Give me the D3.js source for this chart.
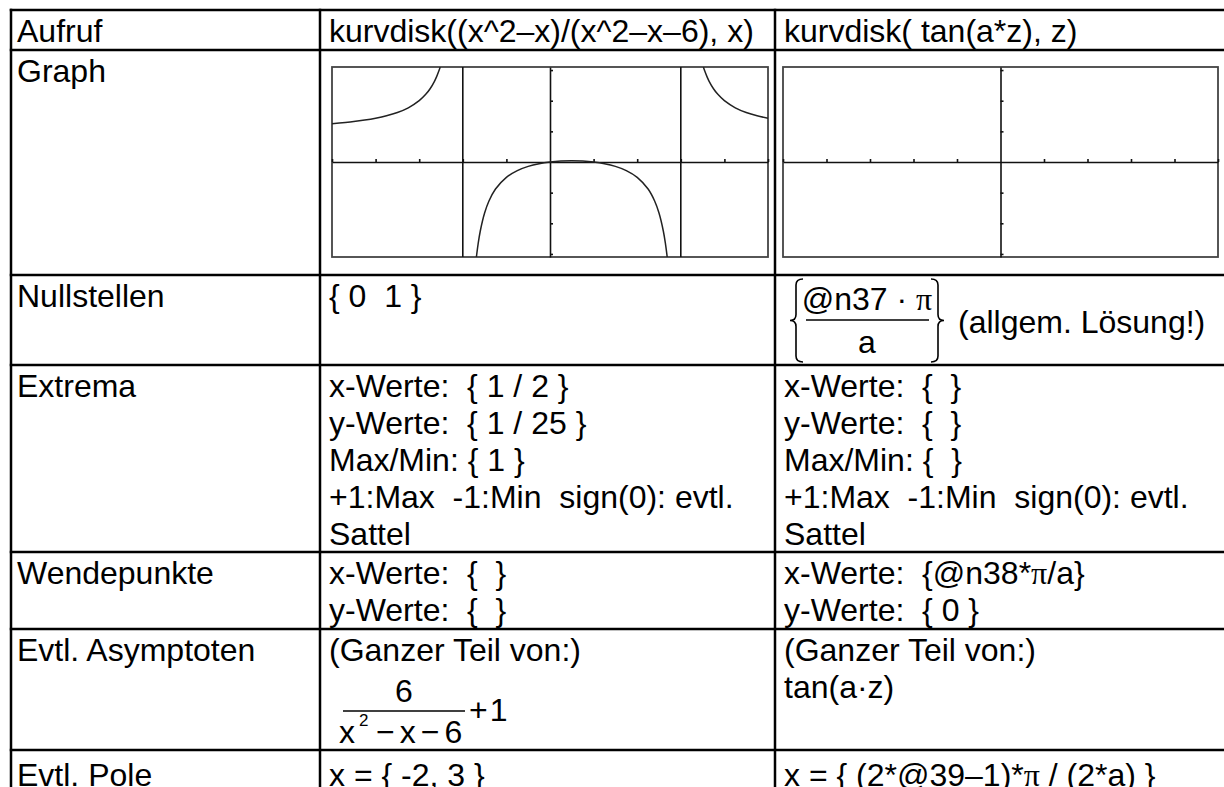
<!DOCTYPE html>
<html>
<head>
<meta charset="utf-8">
<script src="https://cdn.jsdelivr.net/npm/d3@7"></script>
<style>
  html, body { margin: 0; padding: 0; background: #fff; }
  text { white-space: pre; }
</style>
</head>
<body>
<div id="chart"></div>
<script>
// table layout data
const rowLabels = ['Aufruf', 'Graph', 'Nullstellen', 'Extrema', 'Wendepunkte', 'Evtl. Asymptoten', 'Evtl. Pole'];
const col2Text = [
  ['kurvdisk((x^2–x)/(x^2–x–6), x)'],
  [],
  ['{ 0  1 }'],
  ['x-Werte:  { 1 / 2 }', 'y-Werte:  { 1 / 25 }', 'Max/Min: { 1 }', '+1:Max  -1:Min  sign(0): evtl.', 'Sattel'],
  ['x-Werte:  {  }', 'y-Werte:  {  }'],
  ['(Ganzer Teil von:)'],
  ['x = { -2, 3 }']
];
const col3Text = [
  ['kurvdisk( tan(a*z), z)'],
  [],
  [],
  ['x-Werte:  {  }', 'y-Werte:  {  }', 'Max/Min: {  }', '+1:Max  -1:Min  sign(0): evtl.', 'Sattel'],
  ['x-Werte:  {@n38*π/a}', 'y-Werte:  { 0 }'],
  ['(Ganzer Teil von:)', 'tan(a·z)'],
  ['x = { (2*@39–1)*π / (2*a) }']
];

// graph data
const xDomain = [-5, 5];
const yDomain = [-3.1, 3.1];
const xTicks = [-5, -4, -3, -2, -1, 1, 2, 3, 4, 5];
const yTicks = [-3, -2, -1, 1, 2, 3];
const poles1 = [-2, 3];
const branchLeft = [[-5, 1.25], [-4.5, 1.32], [-4.25, 1.368], [-4, 1.429], [-3.75, 1.508], [-3.5, 1.615], [-3.25, 1.768],
  [-3, 2], [-2.85, 2.207], [-2.75, 2.391], [-2.65, 2.634], [-2.6, 2.786], [-2.55, 2.966], [-2.518, 3.1]];
const branchMid = [[-1.688, -3.1], [-1.65, -2.687], [-1.6, -2.26], [-1.5, -1.667], [-1.4, -1.273], [-1.25, -0.882],
  [-1, -0.5], [-0.75, -0.28], [-0.5, -0.143], [-0.25, -0.055], [0, 0], [0.25, 0.03], [0.5, 0.04], [0.75, 0.03],
  [1, 0], [1.25, -0.055], [1.5, -0.143], [1.75, -0.28], [2, -0.5], [2.25, -0.882], [2.4, -1.273], [2.5, -1.667],
  [2.6, -2.26], [2.65, -2.687], [2.688, -3.1]];
const branchRight = [[3.518, 3.1], [3.55, 2.966], [3.6, 2.786], [3.65, 2.634], [3.75, 2.391], [3.85, 2.207], [4, 2],
  [4.25, 1.768], [4.5, 1.615], [4.75, 1.508], [5, 1.429]];

const W = 1224, H = 787;
const rowTop = [10, 50, 275, 365, 552, 629, 750, 800];
const rowBase = [32, 32, 32, 32, 32, 32, 36];
const colX = [11, 320, 775, 1240];
const lineH = 37, fs = 32;

const svg = d3.select('#chart').append('svg')
  .attr('width', W).attr('height', H)
  .style('font-family', '"Liberation Sans", Arial, Helvetica, sans-serif')
  .style('font-size', fs + 'px');

function addLine(x, y, str) {
  const t = svg.append('text').attr('x', x).attr('y', y).attr('fill', '#000');
  str.split('π').forEach((part, i, arr) => {
    t.append('tspan').text(part);
    if (i < arr.length - 1) t.append('tspan').style('font-family', '"Liberation Serif", "Times New Roman", serif').text('π');
  });
  return t;
}

rowLabels.forEach((lbl, i) => addLine(colX[0] + 6, rowTop[i] + rowBase[i], lbl));
col2Text.forEach((lines, i) => lines.forEach((s, j) => addLine(colX[1] + 9, rowTop[i] + rowBase[i] + j * lineH, s)));
col3Text.forEach((lines, i) => lines.forEach((s, j) => addLine(colX[2] + 9, rowTop[i] + rowBase[i] + j * lineH, s)));

// Nullstellen, col 3: {@n37·π / a} (allgem. Lösung!)
const bTop = 279, bBot = 362, bMid = (bTop + bBot) / 2;
const brace = (x, dir) => `M${x + 7 * dir},${bTop} Q${x},${bTop} ${x},${bTop + 6} L${x},${bMid - 6} Q${x},${bMid} ${x - 6 * dir},${bMid}` +
  ` Q${x},${bMid} ${x},${bMid + 6} L${x},${bBot - 6} Q${x},${bBot} ${x + 7 * dir},${bBot}`;
svg.append('path').attr('d', brace(796, 1)).attr('fill', 'none').attr('stroke', '#000').attr('stroke-width', 1.6);
svg.append('path').attr('d', brace(938, -1)).attr('fill', 'none').attr('stroke', '#000').attr('stroke-width', 1.6);
addLine(867, 310, '@n37 · π').attr('text-anchor', 'middle');
svg.append('line').attr('x1', 806).attr('x2', 929).attr('y1', 320).attr('y2', 320).attr('stroke', '#000').attr('stroke-width', 1.6);
addLine(867, 353, 'a').attr('text-anchor', 'middle');
addLine(958, 333, '(allgem. Lösung!)');

// Asymptoten, col 2: 6/(x²−x−6) + 1
addLine(404, 702, '6').attr('text-anchor', 'middle');
svg.append('line').attr('x1', 343).attr('x2', 465).attr('y1', 711).attr('y2', 711).attr('stroke', '#000').attr('stroke-width', 1.6);
addLine(339, 743, 'x');
addLine(359, 726, '2').style('font-size', '17px');
const den = addLine(376, 743, '');
den.selectAll('tspan').remove();
['−', 'x', '−', '6'].forEach((s, i) => den.append('tspan').attr('dx', i ? 5 : 0).text(s));
const p1 = addLine(469, 721, '');
p1.selectAll('tspan').remove();
p1.append('tspan').text('+');
p1.append('tspan').attr('dx', 2).text('1');

// calculator graphs
function drawGraph(x0, x1, y0, y1, branches, poles) {
  const x = d3.scaleLinear().domain(xDomain).range([x0, x1]);
  const y = d3.scaleLinear().domain(yDomain).range([y1, y0]);
  const id = 'clip' + Math.round(x0);
  svg.append('clipPath').attr('id', id).append('rect')
    .attr('x', x0).attr('y', y0).attr('width', x1 - x0).attr('height', y1 - y0);
  const g = svg.append('g');
  g.append('rect').attr('x', x0).attr('y', y0).attr('width', x1 - x0).attr('height', y1 - y0)
    .attr('fill', '#fff').attr('stroke', '#444').attr('stroke-width', 1.8);
  const ax = g.append('g').attr('transform', `translate(0,${y(0)})`)
    .call(d3.axisTop(x).tickValues(xTicks).tickSize(3).tickSizeOuter(0).tickFormat(''));
  const ay = g.append('g').attr('transform', `translate(${x(0)},0)`)
    .call(d3.axisRight(y).tickValues(yTicks).tickSize(3).tickSizeOuter(0).tickFormat(''));
  [ax, ay].forEach(a => a.selectAll('path,line').attr('stroke', '#111').attr('stroke-width', 1.6));
  poles.forEach(p => g.append('line').attr('x1', x(p)).attr('x2', x(p)).attr('y1', y0).attr('y2', y1)
    .attr('stroke', '#111').attr('stroke-width', 1.6));
  const line = d3.line().x(d => x(d[0])).y(d => y(d[1])).curve(d3.curveCatmullRom);
  branches.forEach(b => g.append('path').attr('d', line(b)).attr('clip-path', `url(#${id})`)
    .attr('fill', 'none').attr('stroke', '#222').attr('stroke-width', 1.5));
}
drawGraph(332, 768, 67, 257, [branchLeft, branchMid, branchRight], poles1);
drawGraph(783, 1218, 67, 257, [], []);

// table grid
rowTop.slice(0, 7).forEach(y => svg.append('line').attr('x1', colX[0] - 1.25).attr('x2', W + 5)
  .attr('y1', y).attr('y2', y).attr('stroke', '#000').attr('stroke-width', 2.5));
colX.slice(0, 3).forEach(x => svg.append('line').attr('x1', x).attr('x2', x)
  .attr('y1', rowTop[0] - 1.25).attr('y2', H + 5).attr('stroke', '#000').attr('stroke-width', 2.5));
</script>
</body>
</html>
